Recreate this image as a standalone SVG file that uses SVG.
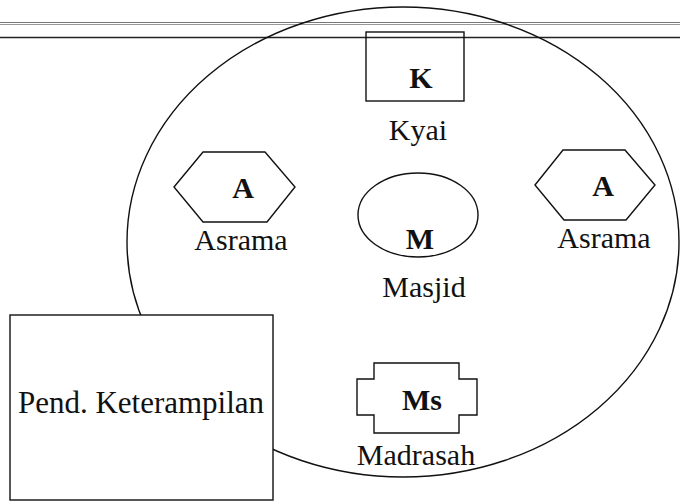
<svg xmlns="http://www.w3.org/2000/svg" width="680" height="502" viewBox="0 0 680 502">
  <style>
    .ln { fill: none; stroke: #111; stroke-width: 1.4; }
    .lbl { font-family: "Liberation Serif", "Times New Roman", serif; font-size: 30px; fill: #111; text-anchor: middle; }
    .code { font-family: "Liberation Serif", "Times New Roman", serif; font-size: 30px; font-weight: bold; fill: #111; text-anchor: middle; }
  </style>
  <rect width="680" height="502" fill="#fff"/>

  <!-- header rules -->
  <g id="header-rules">
    <line x1="0" y1="22.5" x2="680" y2="22.5" stroke="#777" stroke-width="1"/>
    <line x1="0" y1="24.5" x2="680" y2="24.5" stroke="#999" stroke-width="1"/>
    <line x1="0" y1="37.5" x2="680" y2="37.5" stroke="#222" stroke-width="1.3"/>
  </g>

  <!-- pesantren boundary -->
  <g id="boundary">
    <ellipse cx="403" cy="242" rx="276" ry="235" class="ln"/>
  </g>

  <g id="pend-keterampilan">
    <rect x="10" y="315" width="263" height="185" class="ln" style="fill:#fff"/>
    <text x="141" y="413" class="lbl" style="font-size:31px">Pend. Keterampilan</text>
  </g>

  <g id="kyai">
    <rect x="366" y="32" width="98" height="69" class="ln"/>
    <text x="421" y="88" class="code">K</text>
    <text x="418" y="140" class="lbl">Kyai</text>
  </g>

  <g id="asrama-left">
    <polygon points="174,187 203,152 265,152 295,187 267,222 203,222" class="ln"/>
    <text x="243" y="198" class="code">A</text>
    <text x="241" y="250" class="lbl">Asrama</text>
  </g>

  <g id="asrama-right">
    <polygon points="535,185 563,150 625,150 655,185 626,220 564,220" class="ln"/>
    <text x="603" y="196" class="code">A</text>
    <text x="604" y="248" class="lbl">Asrama</text>
  </g>

  <g id="masjid">
    <ellipse cx="418" cy="215" rx="60" ry="42" class="ln"/>
    <text x="420" y="249" class="code">M</text>
    <text x="424" y="297" class="lbl">Masjid</text>
  </g>

  <g id="madrasah">
    <polygon points="374,363 459,363 459,379 477,379 477,415 459,415 459,433 374,433 374,415 357,415 357,379 374,379" class="ln" style="fill:#fff"/>
    <text x="422" y="410" class="code">Ms</text>
    <text x="416" y="465" class="lbl">Madrasah</text>
  </g>

  <g id="connectors"></g>
</svg>
